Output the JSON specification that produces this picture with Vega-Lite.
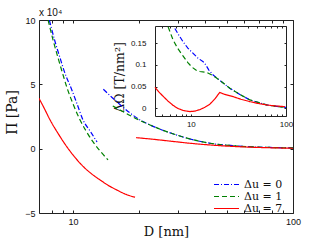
{
  "$schema": "https://vega.github.io/schema/vega-lite/v6.json",
  "width": 254,
  "height": 193,
  "autosize": "none",
  "padding": {"left": 39, "top": 20, "right": 21, "bottom": 28},
  "background": "white",
  "title": {"text": "x 10⁴", "anchor": "start", "frame": "group", "fontSize": 10, "font": "Liberation Sans", "fontWeight": "normal", "offset": 3, "dy": 13, "baseline": "alphabetic", "color": "#111"},
  "config": {
    "view": {"stroke": null},
    "axis": {"grid": false, "domainColor": "#222", "tickColor": "#222", "labelColor": "#111", "labelFont": "Liberation Sans", "labelFontSize": 9, "titleFont": "DejaVu Serif", "titleFontWeight": "normal", "titleColor": "#111", "tickSize": -3, "labelFlush": false, "labelOverlap": false, "domainWidth": 1, "tickWidth": 1},
    "legend": {"labelFont": "DejaVu Serif", "labelFontSize": 11, "labelColor": "#111", "symbolType": "stroke", "symbolSize": 625, "symbolStrokeWidth": 1.2, "labelOffset": 4, "rowPadding": 0, "clipHeight": 11, "padding": 0}
  },
  "datasets": {
    "main": [
      {"D": 7.80, "P": 10.0, "s": "Δu = 0", "b": 1},
      {"D": 8.24, "P": 8.446, "s": "Δu = 0", "b": 1},
      {"D": 8.728, "P": 7.047, "s": "Δu = 0", "b": 1},
      {"D": 9.245, "P": 5.727, "s": "Δu = 0", "b": 1},
      {"D": 9.793, "P": 4.716, "s": "Δu = 0", "b": 1},
      {"D": 10.43, "P": 3.473, "s": "Δu = 0", "b": 1},
      {"D": 11.10, "P": 2.230, "s": "Δu = 0", "b": 1},
      {"D": 11.95, "P": 1.375, "s": "Δu = 0", "b": 1},
      {"D": 12.85, "P": 0.521, "s": "Δu = 0", "b": 1},
      {"D": 13.73, "P": 4.615, "s": "Δu = 0", "b": 2},
      {"D": 15.04, "P": 3.978, "s": "Δu = 0", "b": 2},
      {"D": 16.52, "P": 3.357, "s": "Δu = 0", "b": 2},
      {"D": 18.16, "P": 2.774, "s": "Δu = 0", "b": 2},
      {"D": 20.16, "P": 2.230, "s": "Δu = 0", "b": 2},
      {"D": 22.39, "P": 1.841, "s": "Δu = 0", "b": 2},
      {"D": 25.38, "P": 1.453, "s": "Δu = 0", "b": 2},
      {"D": 29.09, "P": 1.103, "s": "Δu = 0", "b": 2},
      {"D": 34.03, "P": 0.754, "s": "Δu = 0", "b": 2},
      {"D": 41.94, "P": 0.420, "s": "Δu = 0", "b": 2},
      {"D": 51.71, "P": 0.249, "s": "Δu = 0", "b": 2},
      {"D": 63.76, "P": 0.148, "s": "Δu = 0", "b": 2},
      {"D": 78.62, "P": 0.093, "s": "Δu = 0", "b": 2},
      {"D": 100, "P": 0.054, "s": "Δu = 0", "b": 2},
      {"D": 7.70, "P": 10.0, "s": "Δu = 1", "b": 1},
      {"D": 8.11, "P": 8.446, "s": "Δu = 1", "b": 1},
      {"D": 8.548, "P": 7.047, "s": "Δu = 1", "b": 1},
      {"D": 9.007, "P": 5.727, "s": "Δu = 1", "b": 1},
      {"D": 9.392, "P": 4.716, "s": "Δu = 1", "b": 1},
      {"D": 10.0, "P": 3.473, "s": "Δu = 1", "b": 1},
      {"D": 10.76, "P": 2.230, "s": "Δu = 1", "b": 1},
      {"D": 11.46, "P": 1.375, "s": "Δu = 1", "b": 1},
      {"D": 12.33, "P": 0.521, "s": "Δu = 1", "b": 1},
      {"D": 13.27, "P": -0.179, "s": "Δu = 1", "b": 1},
      {"D": 14.42, "P": -0.878, "s": "Δu = 1", "b": 1},
      {"D": 15.15, "P": 3.318, "s": "Δu = 1", "b": 2},
      {"D": 16.35, "P": 3.007, "s": "Δu = 1", "b": 2},
      {"D": 18.16, "P": 2.580, "s": "Δu = 1", "b": 2},
      {"D": 20.16, "P": 2.191, "s": "Δu = 1", "b": 2},
      {"D": 22.39, "P": 1.841, "s": "Δu = 1", "b": 2},
      {"D": 25.38, "P": 1.453, "s": "Δu = 1", "b": 2},
      {"D": 29.09, "P": 1.103, "s": "Δu = 1", "b": 2},
      {"D": 34.03, "P": 0.754, "s": "Δu = 1", "b": 2},
      {"D": 41.94, "P": 0.420, "s": "Δu = 1", "b": 2},
      {"D": 51.71, "P": 0.249, "s": "Δu = 1", "b": 2},
      {"D": 63.76, "P": 0.148, "s": "Δu = 1", "b": 2},
      {"D": 78.62, "P": 0.093, "s": "Δu = 1", "b": 2},
      {"D": 100, "P": 0.054, "s": "Δu = 1", "b": 2},
      {"D": 7.0, "P": 3.916, "s": "Δu = 7", "b": 1},
      {"D": 7.382, "P": 3.162, "s": "Δu = 7", "b": 1},
      {"D": 7.862, "P": 2.230, "s": "Δu = 7", "b": 1},
      {"D": 8.548, "P": 1.181, "s": "Δu = 7", "b": 1},
      {"D": 9.362, "P": 0.155, "s": "Δu = 7", "b": 1},
      {"D": 10.21, "P": -0.684, "s": "Δu = 7", "b": 1},
      {"D": 11.14, "P": -1.399, "s": "Δu = 7", "b": 1},
      {"D": 12.16, "P": -1.966, "s": "Δu = 7", "b": 1},
      {"D": 13.27, "P": -2.432, "s": "Δu = 7", "b": 1},
      {"D": 14.42, "P": -2.844, "s": "Δu = 7", "b": 1},
      {"D": 15.80, "P": -3.209, "s": "Δu = 7", "b": 1},
      {"D": 17.23, "P": -3.520, "s": "Δu = 7", "b": 1},
      {"D": 19.13, "P": -3.776, "s": "Δu = 7", "b": 1},
      {"D": 19.34, "P": 0.855, "s": "Δu = 7", "b": 2},
      {"D": 22.39, "P": 0.754, "s": "Δu = 7", "b": 2},
      {"D": 29.09, "P": 0.544, "s": "Δu = 7", "b": 2},
      {"D": 34.03, "P": 0.420, "s": "Δu = 7", "b": 2},
      {"D": 41.94, "P": 0.287, "s": "Δu = 7", "b": 2},
      {"D": 51.71, "P": 0.186, "s": "Δu = 7", "b": 2},
      {"D": 63.76, "P": 0.117, "s": "Δu = 7", "b": 2},
      {"D": 78.62, "P": 0.070, "s": "Δu = 7", "b": 2},
      {"D": 100, "P": 0.031, "s": "Δu = 7", "b": 2}
    ],
    "inset": [
      {"D": 6.788, "O": 0.1843, "s": "Δu = 0"},
      {"D": 7.479, "O": 0.1689, "s": "Δu = 0"},
      {"D": 8.300, "O": 0.1534, "s": "Δu = 0"},
      {"D": 9.300, "O": 0.1389, "s": "Δu = 0"},
      {"D": 10.573, "O": 0.1267, "s": "Δu = 0"},
      {"D": 11.846, "O": 0.1159, "s": "Δu = 0"},
      {"D": 13.470, "O": 0.1074, "s": "Δu = 0"},
      {"D": 14.380, "O": 0.0998, "s": "Δu = 0"},
      {"D": 15.465, "O": 0.0882, "s": "Δu = 0"},
      {"D": 17.163, "O": 0.0767, "s": "Δu = 0"},
      {"D": 20.185, "O": 0.0641, "s": "Δu = 0"},
      {"D": 25.71, "O": 0.0461, "s": "Δu = 0"},
      {"D": 32.75, "O": 0.0318, "s": "Δu = 0"},
      {"D": 41.73, "O": 0.0191, "s": "Δu = 0"},
      {"D": 50.65, "O": 0.0136, "s": "Δu = 0"},
      {"D": 62.52, "O": 0.0076, "s": "Δu = 0"},
      {"D": 76.43, "O": 0.0048, "s": "Δu = 0"},
      {"D": 92.77, "O": 0.0023, "s": "Δu = 0"},
      {"D": 100, "O": 0.0018, "s": "Δu = 0"},
      {"D": 5.773, "O": 0.188, "s": "Δu = 1"},
      {"D": 6.514, "O": 0.1574, "s": "Δu = 1"},
      {"D": 7.300, "O": 0.1378, "s": "Δu = 1"},
      {"D": 8.300, "O": 0.1205, "s": "Δu = 1"},
      {"D": 9.300, "O": 0.1055, "s": "Δu = 1"},
      {"D": 10.245, "O": 0.0952, "s": "Δu = 1"},
      {"D": 11.287, "O": 0.0882, "s": "Δu = 1"},
      {"D": 12.434, "O": 0.0848, "s": "Δu = 1"},
      {"D": 14.626, "O": 0.0829, "s": "Δu = 1"},
      {"D": 16.233, "O": 0.0779, "s": "Δu = 1"},
      {"D": 18.323, "O": 0.0710, "s": "Δu = 1"},
      {"D": 20.185, "O": 0.0641, "s": "Δu = 1"},
      {"D": 25.71, "O": 0.0461, "s": "Δu = 1"},
      {"D": 32.75, "O": 0.0318, "s": "Δu = 1"},
      {"D": 41.73, "O": 0.0191, "s": "Δu = 1"},
      {"D": 50.65, "O": 0.0136, "s": "Δu = 1"},
      {"D": 62.52, "O": 0.0076, "s": "Δu = 1"},
      {"D": 76.43, "O": 0.0048, "s": "Δu = 1"},
      {"D": 92.77, "O": 0.0023, "s": "Δu = 1"},
      {"D": 100, "O": 0.0018, "s": "Δu = 1"},
      {"D": 4.2, "O": 0.0484, "s": "Δu = 7"},
      {"D": 4.609, "O": 0.0376, "s": "Δu = 7"},
      {"D": 5.113, "O": 0.0276, "s": "Δu = 7"},
      {"D": 5.731, "O": 0.0168, "s": "Δu = 7"},
      {"D": 6.514, "O": 0.0065, "s": "Δu = 7"},
      {"D": 7.300, "O": -0.0005, "s": "Δu = 7"},
      {"D": 8.300, "O": -0.0053, "s": "Δu = 7"},
      {"D": 9.761, "O": -0.0078, "s": "Δu = 7"},
      {"D": 11.016, "O": -0.0067, "s": "Δu = 7"},
      {"D": 12.434, "O": -0.0032, "s": "Δu = 7"},
      {"D": 14.036, "O": 0.0021, "s": "Δu = 7"},
      {"D": 15.844, "O": 0.0094, "s": "Δu = 7"},
      {"D": 17.885, "O": 0.0214, "s": "Δu = 7"},
      {"D": 20.088, "O": 0.0364, "s": "Δu = 7"},
      {"D": 22.785, "O": 0.0318, "s": "Δu = 7"},
      {"D": 27.85, "O": 0.0267, "s": "Δu = 7"},
      {"D": 33.56, "O": 0.0207, "s": "Δu = 7"},
      {"D": 41.73, "O": 0.0152, "s": "Δu = 7"},
      {"D": 50.65, "O": 0.0111, "s": "Δu = 7"},
      {"D": 62.52, "O": 0.0076, "s": "Δu = 7"},
      {"D": 76.43, "O": 0.0053, "s": "Δu = 7"},
      {"D": 97.37, "O": 0.0037, "s": "Δu = 7"}
    ]
  },
  "layer": [
    {
      "data": {"name": "main"},
      "layer": [
        {
          "mark": {"type": "line", "clip": true, "strokeWidth": 1.2, "interpolate": "monotone"},
          "encoding": {
            "x": {"field": "D", "type": "quantitative", "scale": {"type": "log", "domain": [7, 100], "nice": false},
              "axis": {"orient": "bottom", "values": [8, 9, 10, 20, 30, 40, 50, 60, 70, 80, 90, 100], "labelExpr": "datum.value == 10 || datum.value == 100 ? '' + datum.value : ''", "title": "D [nm]", "titleFontSize": 13, "labelPadding": 7, "titleY": 22, "titleBaseline": "alphabetic"}},
            "y": {"field": "P", "type": "quantitative", "scale": {"domain": [-5, 10], "nice": false, "zero": false},
              "axis": {"orient": "left", "values": [-5, 0, 5, 10], "format": "d", "title": "Π [Pa]", "titleFontSize": 14, "titleX": -20, "titleY": 92, "titleAlign": "center", "labelPadding": 7}},
            "color": {"field": "s", "type": "nominal", "scale": {"domain": ["Δu = 0", "Δu = 1", "Δu = 7"], "range": ["#0000ff", "#008000", "#ff0000"]},
              "legend": {"title": null, "orient": "none", "legendX": 174, "legendY": 159}},
            "strokeDash": {"field": "s", "type": "nominal", "scale": {"domain": ["Δu = 0", "Δu = 1", "Δu = 7"], "range": [[5, 2, 1, 2], [5, 3], [1, 0]]},
              "legend": {"title": null, "orient": "none", "legendX": 174, "legendY": 159}},
            "detail": {"field": "b", "type": "nominal"}
          }
        },
        {
          "mark": {"type": "line", "opacity": 0},
          "encoding": {
            "x": {"field": "D", "type": "quantitative", "scale": {"type": "log", "domain": [7, 100], "nice": false},
              "axis": {"orient": "top", "values": [8, 9, 10, 20, 30, 40, 50, 60, 70, 80, 90, 100], "labels": false, "title": null}},
            "y": {"field": "P", "type": "quantitative", "scale": {"domain": [-5, 10], "nice": false, "zero": false},
              "axis": {"orient": "right", "values": [-5, 0, 5, 10], "labels": false, "title": null}}
          }
        }
      ],
      "resolve": {"axis": {"x": "independent", "y": "independent"}}
    },
    {
      "data": {"name": "inset"},
      "layer": [
        {
          "mark": {"type": "line", "strokeWidth": 1.2},
          "encoding": {
            "x": {"field": "D", "type": "quantitative", "scale": {"type": "log", "domain": [4.2, 100], "nice": false, "range": [116, 247]},
              "axis": {"orient": "bottom", "offset": -97, "values": [5, 6, 7, 8, 9, 10, 20, 30, 40, 50, 60, 70, 80, 90, 100], "labelExpr": "datum.value == 10 || datum.value == 100 ? '' + datum.value : ''", "title": null, "labelFontSize": 8, "tickSize": -2, "labelPadding": 6}},
            "y": {"field": "O", "type": "quantitative", "scale": {"domain": [-0.018, 0.19], "nice": false, "zero": false, "range": [96, 6]},
              "axis": {"orient": "left", "offset": -116, "values": [0, 0.05, 0.1, 0.15], "labelExpr": "'' + datum.value", "title": "ΔΩ [T/nm²]", "titleFontSize": 12.5, "titleX": -29, "titleY": 57, "titleAlign": "center", "labelFontSize": 8, "tickSize": -2, "labelPadding": 11}},
            "color": {"field": "s", "type": "nominal", "legend": null},
            "strokeDash": {"field": "s", "type": "nominal", "legend": null}
          }
        },
        {
          "mark": {"type": "line", "opacity": 0},
          "encoding": {
            "x": {"field": "D", "type": "quantitative", "scale": {"type": "log", "domain": [4.2, 100], "nice": false, "range": [116, 247]},
              "axis": {"orient": "top", "offset": -6, "values": [5, 6, 7, 8, 9, 10, 20, 30, 40, 50, 60, 70, 80, 90, 100], "labels": false, "title": null, "tickSize": -2}},
            "y": {"field": "O", "type": "quantitative", "scale": {"domain": [-0.018, 0.19], "nice": false, "zero": false, "range": [96, 6]},
              "axis": {"orient": "right", "offset": -7, "values": [0, 0.05, 0.1, 0.15], "labels": false, "title": null, "tickSize": -2}}
          }
        }
      ],
      "resolve": {"axis": {"x": "independent", "y": "independent"}}
    }
  ],
  "resolve": {"scale": {"x": "independent", "y": "independent"}, "axis": {"x": "independent", "y": "independent"}}
}
